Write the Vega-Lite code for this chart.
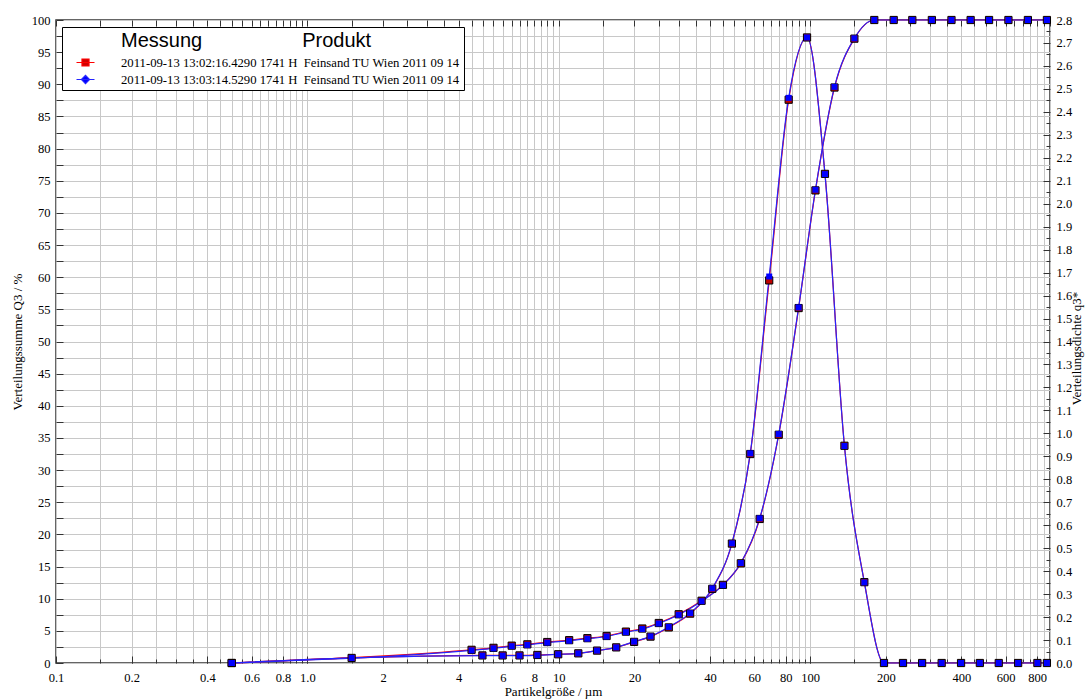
{
 "$schema": "https://vega.github.io/schema/vega-lite/v6.json",
 "width": 994,
 "height": 643,
 "autosize": {"type": "none"},
 "padding": {"left": 56, "top": 20, "right": 39, "bottom": 36},
 "background": "#ffffff",
 "config": {
  "view": {"stroke": "#333333", "strokeWidth": 1.5},
  "axis": {"labelFont": "Liberation Serif", "labelFontSize": 12.5, "labelColor": "#000000", "titleFont": "Liberation Serif", "titleFontSize": 13, "titleFontWeight": "normal", "titleColor": "#000000", "domain": false, "tickColor": "#333333", "tickWidth": 1, "gridColor": "#c8c8c8", "gridWidth": 1, "labelFlush": false, "labelOverlap": false, "labelBound": false},
  "legend": {
   "orient": "none", "legendX": 6, "legendY": 7, "zindex": 2,
   "titleFont": "Liberation Sans", "titleFontSize": 20, "titleFontWeight": "normal", "titleColor": "#000000", "titlePadding": 2, "titleLimit": 600,
   "labelFont": "Liberation Serif", "labelFontSize": 12.7, "labelColor": "#000000", "labelLimit": 600, "labelOffset": 25.5,
   "symbolSize": 324, "symbolOffset": 10, "symbolStrokeWidth": 1.2,
   "padding": 3.5, "strokeColor": "#000000", "fillColor": "#ffffff", "rowPadding": 0
  }
 },
 "datasets": {
  "q": [
   {"s":"1","x":0.5,"v":0},{"s":"1","x":4.5,"v":2.05},{"s":"1","x":5.5,"v":2.36},{"s":"1","x":6.5,"v":2.7},{"s":"1","x":7.5,"v":2.9},{"s":"1","x":9,"v":3.26},{"s":"1","x":11,"v":3.55},{"s":"1","x":13,"v":3.86},{"s":"1","x":15.5,"v":4.2},{"s":"1","x":18.5,"v":4.88},{"s":"1","x":21.5,"v":5.36},{"s":"1","x":25,"v":6.22},{"s":"1","x":30,"v":7.58},{"s":"1","x":37,"v":9.68},{"s":"1","x":45,"v":12.15},{"s":"1","x":53,"v":15.5},{"s":"1","x":63,"v":22.4},{"s":"1","x":75,"v":35.5},{"s":"1","x":90,"v":55.2},{"s":"1","x":105,"v":73.5},{"s":"1","x":125,"v":89.5},{"s":"1","x":150,"v":97.1},{"s":"1","x":180,"v":100},{"s":"1","x":215,"v":100},{"s":"1","x":255,"v":100},{"s":"1","x":305,"v":100},{"s":"1","x":365,"v":100},{"s":"1","x":435,"v":100},{"s":"1","x":515,"v":100},{"s":"1","x":615,"v":100},{"s":"1","x":735,"v":100},{"s":"1","x":875,"v":100},
   {"s":"2","x":0.5,"v":0},{"s":"2","x":4.5,"v":1.97},{"s":"2","x":5.5,"v":2.28},{"s":"2","x":6.5,"v":2.62},{"s":"2","x":7.5,"v":2.82},{"s":"2","x":9,"v":3.18},{"s":"2","x":11,"v":3.47},{"s":"2","x":13,"v":3.78},{"s":"2","x":15.5,"v":4.12},{"s":"2","x":18.5,"v":4.8},{"s":"2","x":21.5,"v":5.28},{"s":"2","x":25,"v":6.15},{"s":"2","x":30,"v":7.5},{"s":"2","x":37,"v":9.62},{"s":"2","x":45,"v":12.1},{"s":"2","x":53,"v":15.55},{"s":"2","x":63,"v":22.5},{"s":"2","x":75,"v":35.6},{"s":"2","x":90,"v":55.3},{"s":"2","x":105,"v":73.6},{"s":"2","x":125,"v":89.6},{"s":"2","x":150,"v":97.15},{"s":"2","x":180,"v":100},{"s":"2","x":215,"v":100},{"s":"2","x":255,"v":100},{"s":"2","x":305,"v":100},{"s":"2","x":365,"v":100},{"s":"2","x":435,"v":100},{"s":"2","x":515,"v":100},{"s":"2","x":615,"v":100},{"s":"2","x":735,"v":100},{"s":"2","x":875,"v":100}
  ],
  "d": [
   {"s":"1","x":0.5,"v":0},{"s":"1","x":1.5,"v":0.022},{"s":"1","x":4.97,"v":0.033},{"s":"1","x":5.98,"v":0.033},{"s":"1","x":6.98,"v":0.033},{"s":"1","x":8.22,"v":0.035},{"s":"1","x":9.95,"v":0.038},{"s":"1","x":11.96,"v":0.042},{"s":"1","x":14.2,"v":0.054},{"s":"1","x":16.93,"v":0.068},{"s":"1","x":19.94,"v":0.092},{"s":"1","x":23.18,"v":0.115},{"s":"1","x":27.39,"v":0.155},{"s":"1","x":33.32,"v":0.215},{"s":"1","x":40.8,"v":0.323},{"s":"1","x":48.84,"v":0.52},{"s":"1","x":57.79,"v":0.91},{"s":"1","x":68.74,"v":1.666},{"s":"1","x":82.16,"v":2.453},{"s":"1","x":97.21,"v":2.724},{"s":"1","x":114.56,"v":2.13},{"s":"1","x":136.93,"v":0.946},{"s":"1","x":164.32,"v":0.352},{"s":"1","x":196.72,"v":0},{"s":"1","x":234.15,"v":0},{"s":"1","x":278.88,"v":0},{"s":"1","x":333.65,"v":0},{"s":"1","x":398.47,"v":0},{"s":"1","x":473.31,"v":0},{"s":"1","x":562.8,"v":0},{"s":"1","x":672.3,"v":0},{"s":"1","x":801.9,"v":0},{"s":"1","x":875,"v":0},
   {"s":"2","x":0.5,"v":0},{"s":"2","x":1.5,"v":0.022},{"s":"2","x":4.97,"v":0.032},{"s":"2","x":5.98,"v":0.032},{"s":"2","x":6.98,"v":0.032},{"s":"2","x":8.22,"v":0.034},{"s":"2","x":9.95,"v":0.038},{"s":"2","x":11.96,"v":0.042},{"s":"2","x":14.2,"v":0.054},{"s":"2","x":16.93,"v":0.068},{"s":"2","x":19.94,"v":0.093},{"s":"2","x":23.18,"v":0.116},{"s":"2","x":27.39,"v":0.157},{"s":"2","x":33.32,"v":0.217},{"s":"2","x":40.8,"v":0.325},{"s":"2","x":48.84,"v":0.521},{"s":"2","x":57.79,"v":0.913},{"s":"2","x":68.74,"v":1.683},{"s":"2","x":82.16,"v":2.461},{"s":"2","x":97.21,"v":2.724},{"s":"2","x":114.56,"v":2.129},{"s":"2","x":136.93,"v":0.945},{"s":"2","x":164.32,"v":0.351},{"s":"2","x":196.72,"v":0},{"s":"2","x":234.15,"v":0},{"s":"2","x":278.88,"v":0},{"s":"2","x":333.65,"v":0},{"s":"2","x":398.47,"v":0},{"s":"2","x":473.31,"v":0},{"s":"2","x":562.8,"v":0},{"s":"2","x":672.3,"v":0},{"s":"2","x":801.9,"v":0},{"s":"2","x":875,"v":0}
  ]
 },
 "resolve": {"scale": {"y": "independent"}, "axis": {"x": "independent", "y": "independent"}},
 "layer": [
  {
   "data": {"name": "q"},
   "transform": [{"filter": "datum.s == '1'"}],
   "mark": {"type": "line", "interpolate": "monotone", "strokeWidth": 1.2, "color": "#ff0000"},
   "encoding": {
    "x": {"field": "x", "type": "quantitative", "scale": {"type": "log", "domain": [0.1, 900], "nice": false},
     "axis": {"orient": "bottom", "values": [0.1,0.15,0.2,0.25,0.3,0.35,0.4,0.45,0.5,0.55,0.6,0.65,0.7,0.75,0.8,0.85,0.9,0.95,1,1.5,2,2.5,3,3.5,4,4.5,5,5.5,6,6.5,7,7.5,8,8.5,9,9.5,10,15,20,25,30,35,40,45,50,55,60,65,70,75,80,85,90,95,100,150,200,250,300,350,400,450,500,550,600,650,700,750,800,850,900], "grid": true, "labels": false, "ticks": true, "tickSize": -4, "title": null, "zindex": 0}},
    "y": {"field": "v", "type": "quantitative", "scale": {"domain": [0, 100], "nice": false},
     "axis": {"orient": "left", "values": [0,2.5,5,7.5,10,12.5,15,17.5,20,22.5,25,27.5,30,32.5,35,37.5,40,42.5,45,47.5,50,52.5,55,57.5,60,62.5,65,67.5,70,72.5,75,77.5,80,82.5,85,87.5,90,92.5,95,97.5,100], "grid": true, "labels": false, "ticks": true, "tickSize": -7, "title": null, "zindex": 0}}
   }
  },
  {
   "data": {"name": "d"},
   "transform": [{"filter": "datum.s == '1'"}],
   "mark": {"type": "line", "interpolate": "monotone", "strokeWidth": 1.2, "color": "#ff0000"},
   "encoding": {
    "x": {"field": "x", "type": "quantitative", "scale": {"type": "log", "domain": [0.1, 900], "nice": false},
     "axis": {"orient": "bottom", "values": [0.1,0.2,0.4,0.6,0.8,1,2,4,6,8,10,20,40,60,80,100,200,400,600,800], "grid": false, "labels": false, "ticks": true, "tickSize": -7, "title": null}},
    "y": {"field": "v", "type": "quantitative", "scale": {"domain": [0, 2.8], "nice": false},
     "axis": {"orient": "right", "values": [0,0.1,0.2,0.3,0.4,0.5,0.6,0.7,0.8,0.9,1,1.1,1.2,1.3,1.4,1.5,1.6,1.7,1.8,1.9,2,2.1,2.2,2.3,2.4,2.5,2.6,2.7,2.8], "grid": false, "labels": false, "ticks": true, "tickSize": -7, "title": null}}
   }
  },
  {
   "data": {"name": "q"},
   "transform": [{"filter": "datum.s == '2'"}],
   "mark": {"type": "line", "interpolate": "monotone", "strokeWidth": 1.2, "color": "#2424ff"},
   "encoding": {
    "x": {"field": "x", "type": "quantitative", "scale": {"type": "log", "domain": [0.1, 900], "nice": false}, "axis": null},
    "y": {"field": "v", "type": "quantitative", "scale": {"domain": [0, 100], "nice": false}, "axis": null}
   }
  },
  {
   "data": {"name": "d"},
   "transform": [{"filter": "datum.s == '2'"}],
   "mark": {"type": "line", "interpolate": "monotone", "strokeWidth": 1.2, "color": "#2424ff"},
   "encoding": {
    "x": {"field": "x", "type": "quantitative", "scale": {"type": "log", "domain": [0.1, 900], "nice": false}, "axis": null},
    "y": {"field": "v", "type": "quantitative", "scale": {"domain": [0, 2.8], "nice": false}, "axis": null}
   }
  },
  {
   "data": {"name": "q"},
   "transform": [{"filter": "datum.s == '1'"}],
   "mark": {"type": "point", "shape": "square", "filled": true, "fill": "#c00000", "stroke": "#000000", "strokeWidth": 1, "size": 52, "opacity": 1},
   "encoding": {
    "x": {"field": "x", "type": "quantitative", "scale": {"type": "log", "domain": [0.1, 900], "nice": false},
     "axis": {"orient": "bottom", "values": [0.1,0.2,0.4,0.6,0.8,1,2,4,6,8,10,20,40,60,80,100,200,400,600,800], "grid": false, "labels": true, "ticks": false, "labelPadding": 8, "labelExpr": "datum.value == 1 ? '1.0' : format(datum.value, '~g')", "title": "Partikelgröße / µm", "titleY": 32, "titleBaseline": "alphabetic"}},
    "y": {"field": "v", "type": "quantitative", "scale": {"domain": [0, 100], "nice": false},
     "axis": {"orient": "left", "values": [0,5,10,15,20,25,30,35,40,45,50,55,60,65,70,75,80,85,90,95,100], "format": "d", "grid": false, "labels": true, "ticks": false, "labelPadding": 6, "title": "Verteilungssumme Q3 / %", "titleX": -35, "titleBaseline": "alphabetic"}}
   }
  },
  {
   "data": {"name": "d"},
   "transform": [{"filter": "datum.s == '1'"}],
   "mark": {"type": "point", "shape": "square", "filled": true, "fill": "#c00000", "stroke": "#000000", "strokeWidth": 1, "size": 52, "opacity": 1},
   "encoding": {
    "x": {"field": "x", "type": "quantitative", "scale": {"type": "log", "domain": [0.1, 900], "nice": false}, "axis": null},
    "y": {"field": "v", "type": "quantitative", "scale": {"domain": [0, 2.8], "nice": false},
     "axis": {"orient": "right", "values": [0,0.1,0.2,0.3,0.4,0.5,0.6,0.7,0.8,0.9,1,1.1,1.2,1.3,1.4,1.5,1.6,1.7,1.8,1.9,2,2.1,2.2,2.3,2.4,2.5,2.6,2.7,2.8], "format": ".1f", "grid": false, "labels": true, "ticks": false, "labelPadding": 6, "title": "Verteilungsdichte q3*", "titleAngle": 270, "titleX": 30, "titleY": 328, "titleBaseline": "alphabetic"}}
   }
  },
  {
   "data": {"name": "q"},
   "transform": [{"filter": "datum.s == '2'"}],
   "mark": {"type": "point", "shape": "square", "filled": true, "fill": "#0000ff", "strokeWidth": 0, "size": 36, "opacity": 1},
   "encoding": {
    "x": {"field": "x", "type": "quantitative", "scale": {"type": "log", "domain": [0.1, 900], "nice": false},
     "axis": {"orient": "top", "values": [0.1,0.15,0.2,0.25,0.3,0.35,0.4,0.45,0.5,0.55,0.6,0.65,0.7,0.75,0.8,0.85,0.9,0.95,1,1.5,2,2.5,3,3.5,4,4.5,5,5.5,6,6.5,7,7.5,8,8.5,9,9.5,10,15,20,25,30,35,40,45,50,55,60,65,70,75,80,85,90,95,100,150,200,250,300,350,400,450,500,550,600,650,700,750,800,850,900], "grid": false, "labels": false, "ticks": true, "tickSize": -6, "title": null}},
    "y": {"field": "v", "type": "quantitative", "scale": {"domain": [0, 100], "nice": false}, "axis": null}
   }
  },
  {
   "data": {"name": "d"},
   "transform": [{"filter": "datum.s == '2'"}],
   "mark": {"type": "point", "shape": "square", "filled": true, "fill": "#0000ff", "strokeWidth": 0, "size": 36, "opacity": 1},
   "encoding": {
    "x": {"field": "x", "type": "quantitative", "scale": {"type": "log", "domain": [0.1, 900], "nice": false}, "axis": null},
    "y": {"field": "v", "type": "quantitative", "scale": {"domain": [0, 2.8], "nice": false},
     "axis": {"orient": "right", "values": [0.05,0.15,0.25,0.35,0.45,0.55,0.65,0.75,0.85,0.95,1.05,1.15,1.25,1.35,1.45,1.55,1.65,1.75,1.85,1.95,2.05,2.15,2.25,2.35,2.45,2.55,2.65,2.75], "grid": false, "labels": false, "ticks": true, "tickSize": -4, "title": null}}
   }
  },
  {
   "data": {"name": "q"},
   "transform": [{"filter": "datum.x == 0.5"}],
   "mark": {"type": "point", "filled": true, "strokeWidth": 1.2, "opacity": 1, "clip": true},
   "encoding": {
    "x": {"field": "x", "type": "quantitative", "scale": {"type": "log", "domain": [0.1, 900], "nice": false}, "axis": null},
    "y": {"field": "v", "type": "quantitative", "scale": {"domain": [1000, 2000], "nice": false}, "axis": null},
    "fill": {"field": "s", "type": "nominal", "scale": {"domain": ["1", "2"], "range": ["#d00000", "#0000ff"]},
     "legend": {
      "title": "\u200b\u00a0\u00a0\u00a0\u00a0\u00a0\u00a0\u00a0\u00a0\u00a0\u00a0Messung\u00a0\u00a0\u00a0\u00a0\u00a0\u00a0\u00a0\u00a0\u00a0\u00a0\u00a0\u00a0\u00a0\u00a0\u00a0\u00a0\u00a0\u00a0Produkt",
      "labelExpr": "datum.value == '1' ? '2011-09-13 13:02:16.4290 1741 H\u00a0\u00a0Feinsand TU Wien 2011 09 14' : '2011-09-13 13:03:14.5290 1741 H\u00a0\u00a0Feinsand TU Wien 2011 09 14'"
     }},
    "stroke": {"field": "s", "type": "nominal", "scale": {"domain": ["1", "2"], "range": ["#ff0000", "#2424ff"]},
     "legend": {
      "title": "\u200b\u00a0\u00a0\u00a0\u00a0\u00a0\u00a0\u00a0\u00a0\u00a0\u00a0Messung\u00a0\u00a0\u00a0\u00a0\u00a0\u00a0\u00a0\u00a0\u00a0\u00a0\u00a0\u00a0\u00a0\u00a0\u00a0\u00a0\u00a0\u00a0Produkt",
      "labelExpr": "datum.value == '1' ? '2011-09-13 13:02:16.4290 1741 H\u00a0\u00a0Feinsand TU Wien 2011 09 14' : '2011-09-13 13:03:14.5290 1741 H\u00a0\u00a0Feinsand TU Wien 2011 09 14'"
     }},
    "shape": {"field": "s", "type": "nominal", "scale": {"domain": ["1", "2"], "range": ["M-1,0H1M-0.39,-0.39H0.39V0.39H-0.39Z", "M-1,0H1M-0.45,0L0,-0.45L0.45,0L0,0.45Z"]},
     "legend": {
      "title": "\u200b\u00a0\u00a0\u00a0\u00a0\u00a0\u00a0\u00a0\u00a0\u00a0\u00a0Messung\u00a0\u00a0\u00a0\u00a0\u00a0\u00a0\u00a0\u00a0\u00a0\u00a0\u00a0\u00a0\u00a0\u00a0\u00a0\u00a0\u00a0\u00a0Produkt",
      "labelExpr": "datum.value == '1' ? '2011-09-13 13:02:16.4290 1741 H\u00a0\u00a0Feinsand TU Wien 2011 09 14' : '2011-09-13 13:03:14.5290 1741 H\u00a0\u00a0Feinsand TU Wien 2011 09 14'"
     }}
   }
  }
 ]
}
